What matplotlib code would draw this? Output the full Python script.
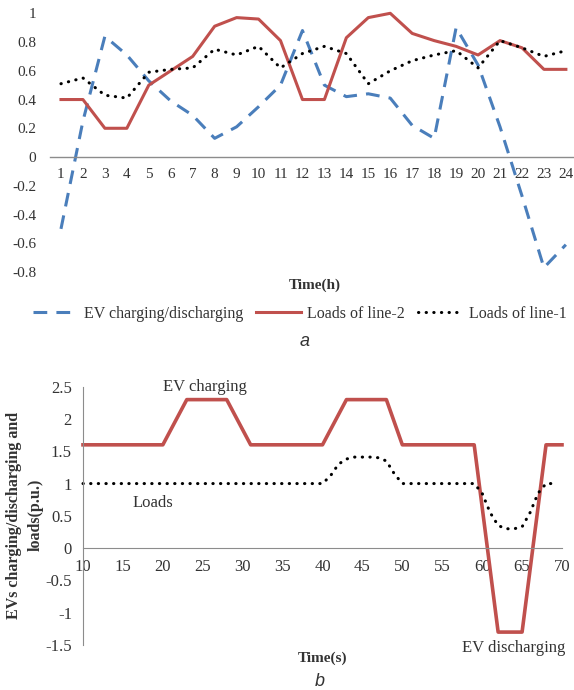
import numpy as np
import matplotlib
matplotlib.use("Agg")
import matplotlib.pyplot as plt

plt.rcParams['font.family'] = ['Liberation Serif', 'DejaVu Serif']

# ---- panel a data (hourly, p.u.) ----
hours = list(range(1, 25))
ev_charge = [-0.5, 0.25, 0.84, 0.71, 0.53, 0.39, 0.29, 0.13, 0.21, 0.35, 0.5, 0.88,
             0.5, 0.42, 0.44, 0.41, 0.22, 0.13, 0.9, 0.64, 0.21, -0.27, -0.77, -0.61]
loads_line2 = [0.4, 0.4, 0.2, 0.2, 0.5, 0.6, 0.7, 0.91, 0.97, 0.96, 0.81, 0.4,
               0.4, 0.83, 0.97, 1.0, 0.86, 0.81, 0.77, 0.71, 0.81, 0.76, 0.61, 0.61]
loads_line1 = [0.51, 0.55, 0.43, 0.41, 0.59, 0.61, 0.62, 0.75, 0.71, 0.77, 0.62, 0.72,
               0.77, 0.72, 0.51, 0.6, 0.67, 0.71, 0.74, 0.62, 0.81, 0.76, 0.7, 0.74]
legend_labels = ["EV charging/discharging", "Loads of line-2", "Loads of line-1"]
yticks_a = [-0.8, -0.6, -0.4, -0.2, 0, 0.2, 0.4, 0.6, 0.8, 1]
ylabels_a = ["-0.8", "-0.6", "-0.4", "-0.2", "0", "0.2", "0.4", "0.6", "0.8", "1"]

# ---- panel b data (seconds, p.u.) ----
t_ev = [10, 20, 23, 28, 31, 40, 43, 48, 50, 59, 62, 65, 68, 70]
ev_b = [1.6, 1.6, 2.3, 2.3, 1.6, 1.6, 2.3, 2.3, 1.6, 1.6, -1.3, -1.3, 1.6, 1.6]
t_load = [10, 40, 41, 42, 43, 44, 45, 46, 47, 48, 49, 50, 59, 60, 61, 62, 63,
          64, 65, 66, 67, 68, 69]
load_b = [1.0, 1.0, 1.12, 1.3, 1.38, 1.41, 1.41, 1.41, 1.4, 1.35, 1.15, 1.0, 1.0,
          0.85, 0.55, 0.35, 0.3, 0.3, 0.33, 0.55, 0.85, 1.0, 1.0]
xticks_b = [10, 15, 20, 25, 30, 35, 40, 45, 50, 55, 60, 65, 70]
yticks_b = [-1.5, -1, -0.5, 0, 0.5, 1, 1.5, 2, 2.5]
ylabels_b = ["-1.5", "-1", "-0.5", "0", "0.5", "1", "1.5", "2", "2.5"]

BLUE = '#4a7ebb'
RED = '#c0504d'
GREY = '#8c8c8c'
TXT = '#333333'

W, H = 574, 690
fig = plt.figure(figsize=(W / 100, H / 100), dpi=100)


def px_axes(left, top, right, bottom):
    return fig.add_axes([left / W, 1 - bottom / H, (right - left) / W, (bottom - top) / H])


# ================= panel a =================
ax = px_axes(50, 13.3, 574, 272)
l_ev, = ax.plot(hours, ev_charge, color=BLUE, lw=2.2, linestyle=(0, (4.5, 3)), clip_on=False)
l_l2, = ax.plot(hours, loads_line2, color=RED, lw=2.2, clip_on=False)
l_l1, = ax.plot(hours, loads_line1, color='black', lw=2.2, linestyle=(0, (0.1, 2.4)),
                dash_capstyle='round', clip_on=False)
ax.set_xlim(0.5, 24.37)
ax.set_ylim(-0.8, 1.0)
for s in ['top', 'right', 'left']:
    ax.spines[s].set_visible(False)
ax.spines['bottom'].set_position(('data', 0))
ax.spines['bottom'].set_color(GREY)
ax.spines['bottom'].set_linewidth(1.0)
ax.set_xticks(hours)
ax.set_xticklabels([str(h) for h in hours])
ax.set_yticks(yticks_a)
ax.set_yticklabels(ylabels_a)
ax.tick_params(axis='x', length=0, pad=8, labelsize=11, colors=TXT)
ax.tick_params(axis='y', length=0, pad=10, labelsize=11, colors=TXT)
ax.patch.set_visible(False)

fig.text(315 / W, 1 - 285 / H, "Time(h)", ha='center', va='center', fontsize=11,
         fontweight='bold', color=TXT)
fig.legend([l_ev, l_l2, l_l1], legend_labels, loc='center', ncol=3,
           bbox_to_anchor=(300 / W, 1 - 314 / H), frameon=False, fontsize=11.5,
           handlelength=2.8, handletextpad=0.4, columnspacing=0.8, labelcolor=TXT)
fig.text(305 / W, 1 - 342 / H, "a", ha='center', va='center', fontsize=13,
         style='italic', family='Liberation Sans', color=TXT)

# ================= panel b =================
bx = px_axes(83, 386.7, 562, 645)
bx.plot(t_ev, ev_b, color=RED, lw=2.6, clip_on=False)
bx.plot(t_load, load_b, color='black', lw=2.2, linestyle=(0, (0.1, 2.4)),
        dash_capstyle='round', clip_on=False)
bx.set_xlim(10, 70)
bx.set_ylim(-1.5, 2.5)
for s in ['top', 'right']:
    bx.spines[s].set_visible(False)
bx.spines['bottom'].set_position(('data', 0))
bx.spines['bottom'].set_color(GREY)
bx.spines['left'].set_color(GREY)
bx.set_xticks(xticks_b)
bx.set_xticklabels([str(v) for v in xticks_b])
bx.set_yticks(yticks_b)
bx.set_yticklabels(ylabels_b)
bx.tick_params(axis='x', length=0, pad=8, labelsize=12, colors=TXT)
bx.tick_params(axis='y', length=0, pad=8, labelsize=12, colors=TXT)
bx.patch.set_visible(False)

bx.text(25.3, 2.5, "EV charging", ha='center', va='center', fontsize=12, color=TXT,
        clip_on=False)
bx.text(18.8, 0.7, "Loads", ha='center', va='center', fontsize=12, color=TXT)
bx.text(63.9, -1.55, "EV discharging", ha='center', va='center', fontsize=12, color=TXT,
        clip_on=False)

fig.text(25 / W, 1 - 515 / H, "EVs charging/discharging and\nloads(p.u.)", rotation=90,
         ha='center', va='center', multialignment='center', fontsize=11.5,
         linespacing=1.45, fontweight='bold', color=TXT)
fig.text(323 / W, 1 - 658 / H, "Time(s)", ha='center', va='center', fontsize=11,
         fontweight='bold', color=TXT)
fig.text(320 / W, 1 - 682 / H, "b", ha='center', va='center', fontsize=13,
         style='italic', family='Liberation Sans', color=TXT)

fig.savefig("out.png", dpi=100)
